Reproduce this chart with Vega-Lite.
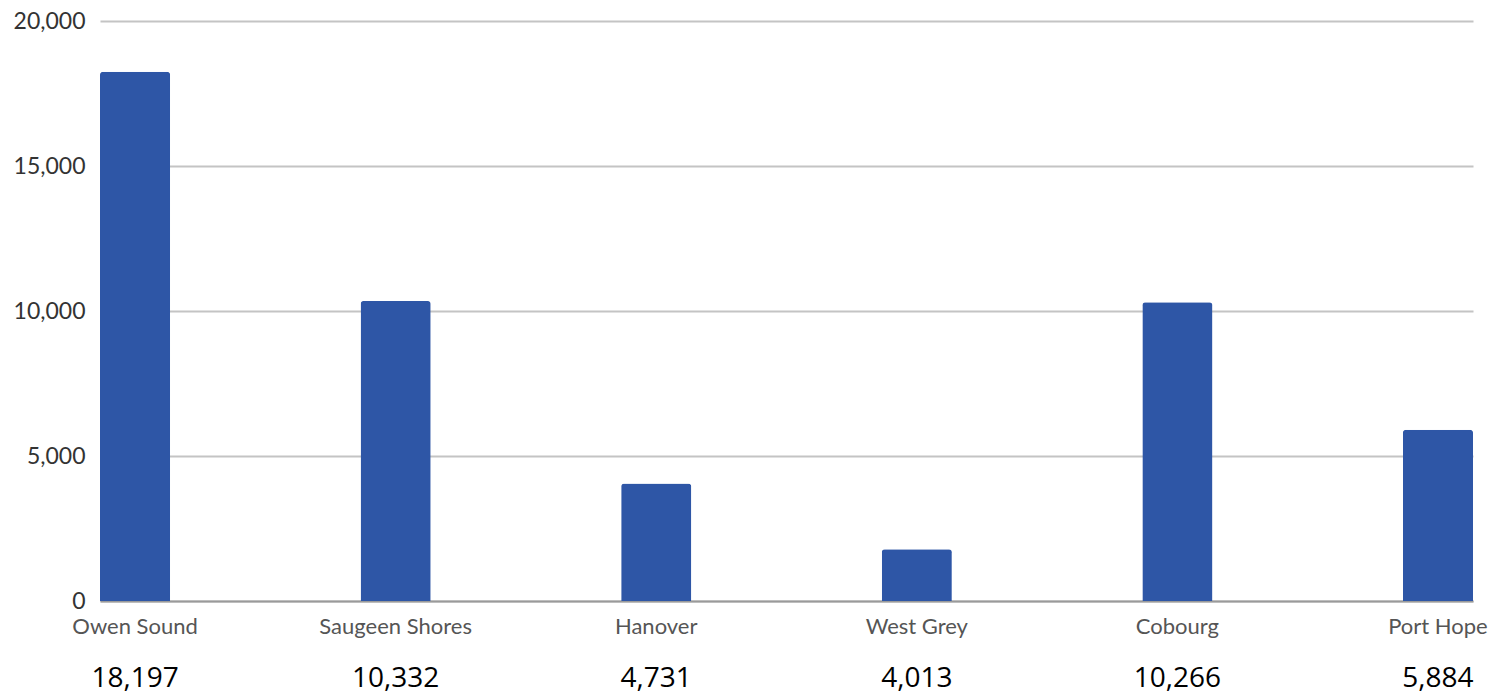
{
  "$schema": "https://vega.github.io/schema/vega-lite/v6.json",
  "autosize": "none",
  "width": 1373,
  "height": 580,
  "padding": {"left": 100, "top": 21, "right": 28, "bottom": 96},
  "background": "white",
  "config": {"view": {"stroke": null}},
  "data": {
    "values": [
      {"town": "Owen Sound", "value": 18250, "label": "18,197"},
      {"town": "Saugeen Shores", "value": 10345, "label": "10,332"},
      {"town": "Hanover", "value": 4048, "label": "4,731"},
      {"town": "West Grey", "value": 1783, "label": "4,013"},
      {"town": "Cobourg", "value": 10300, "label": "10,266"},
      {"town": "Port Hope", "value": 5905, "label": "5,884"}
    ]
  },
  "encoding": {
    "x": {
      "field": "town",
      "type": "nominal",
      "sort": null,
      "scale": {"paddingInner": 0.731, "paddingOuter": 0},
      "axis": {
        "title": null,
        "labelAngle": 0,
        "labelFont": "Lato",
        "labelFontSize": 22,
        "labelColor": "#555555",
        "labelPadding": 15,
        "ticks": false,
        "domainColor": "#9a9a9a",
        "domainWidth": 2,
        "grid": false
      }
    }
  },
  "layer": [
    {
      "mark": {"type": "bar", "color": "#2E56A6", "cornerRadiusTopLeft": 3, "cornerRadiusTopRight": 3},
      "encoding": {
        "y": {
          "field": "value",
          "type": "quantitative",
          "scale": {"domain": [0, 20000], "nice": false},
          "axis": {
            "title": null,
            "values": [0, 5000, 10000, 15000, 20000],
            "labelExpr": "format(datum.value, ',')",
            "labelFont": "Lato",
            "labelFontSize": 23,
            "labelColor": "#333333",
            "labelPadding": 15,
            "ticks": false,
            "domain": false,
            "grid": true,
            "gridColor": "#c4c4c4",
            "gridWidth": 2
          }
        }
      }
    },
    {
      "mark": {"type": "text", "font": "Open Sans", "fontSize": 28, "color": "#000000", "baseline": "middle", "dy": 78},
      "encoding": {
        "y": {"datum": 0, "type": "quantitative"},
        "text": {"field": "label", "type": "nominal"}
      }
    }
  ]
}
